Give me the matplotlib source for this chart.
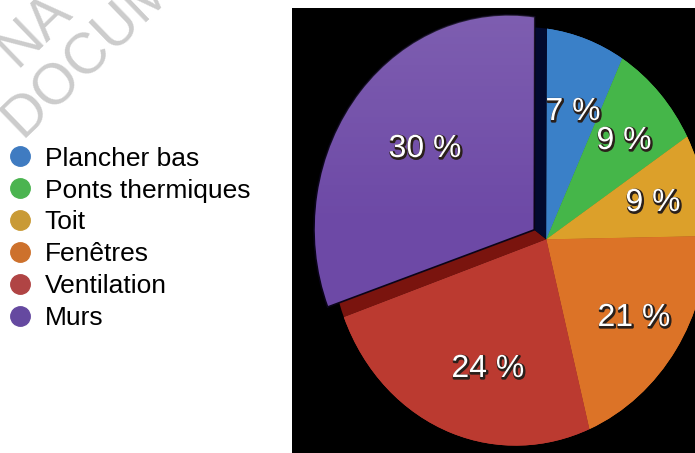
import numpy as np
import matplotlib
matplotlib.use("Agg")
import matplotlib.pyplot as plt
import matplotlib.patheffects as pe
from matplotlib.lines import Line2D
from matplotlib.transforms import Transform

plt.rcParams["font.family"] = ["Liberation Sans", "DejaVu Sans"]

postes = ["Plancher bas", "Ponts thermiques", "Toit", "Fenêtres", "Ventilation", "Murs"]
parts = [7, 9, 9, 21, 24, 30]
etiquettes = ["7 %", "9 %", "9 %", "21 %", "24 %", "30 %"]
couleurs = ["#3a80c8", "#45b649", "#dca02a", "#dc7327", "#bb3a30", "#6d49a6"]
legende_couleurs = ["#3f7bc1", "#4bb450", "#c99a35", "#cd712c", "#b04444", "#6549a0"]


# le camembert de l'image est vu en perspective : on calibre une homographie
# angle sur le cercle (degres depuis le haut, sens horaire) -> pixel de l'image
calib_angles = [0, 0, 0, 25, 58, 90, 140, 166, 190, 206, 252, 270, 312]
calib_px = [(548, 28), (548, 28), (548, 28), (622, 57), (685, 135), (708, 234), (657, 377),
            (588, 428), (503, 448), (457, 440), (353, 327), (338, 212), (375, 99)]
# le centre compte plusieurs fois pour tenir la pointe en place
centre_px = [(548, 242)] * 6


def calibrer():
    A, B = [], []
    pts = [(np.sin(np.radians(t)), np.cos(np.radians(t))) for t in calib_angles] + [(0, 0)] * len(centre_px)
    for (u, v), (x, y) in zip(pts, calib_px + centre_px):
        A.append([u, v, 1, 0, 0, 0, -x * u, -x * v])
        B.append(x)
        A.append([0, 0, 0, u, v, 1, -y * u, -y * v])
        B.append(y)
    h = np.linalg.lstsq(np.array(A, float), np.array(B, float), rcond=None)[0]
    return h.reshape(-1).tolist() + [1.0]


class Perspective(Transform):
    input_dims = 2
    output_dims = 2
    is_affine = False

    def __init__(self, h):
        super().__init__()
        self.h = np.array(h).reshape(3, 3)

    def transform_non_affine(self, values):
        # x du pie = sin(angle depuis le haut), y du pie = cos
        p = np.c_[values, np.ones(len(values))] @ self.h.T
        return p[:, :2] / p[:, 2:]


W, H = 695, 453
fig = plt.figure(figsize=(W / 100, H / 100), dpi=100)

# filigrane
fig.text(0.032, 0.693, "DOCUMENT", fontsize=41, color="#cccccc", rotation=44,
         rotation_mode="anchor", ha="left", va="baseline")
fig.text(0.023, 0.85, "NA", fontsize=41, color="#cccccc", rotation=44,
         rotation_mode="anchor", ha="left", va="baseline")

# panneau noir, axes en pixels de l'image
x0, x1, y0, y1 = 292, 695, 8, 453
ax = fig.add_axes([x0 / W, 1 - y1 / H, (x1 - x0) / W, (y1 - y0) / H])

# dessous : emplacement d'origine du secteur Murs (parois sombres)
dessous = parts[:-1] + [parts[-1] / 2, parts[-1] / 2]
w_dessous, _ = ax.pie(dessous, colors=couleurs[:-1] + ["#7a140e", "#020a2e"],
                      startangle=90, counterclock=False)

explode = [0, 0, 0, 0, 0, 0.08]
wedges, _ = ax.pie(parts, colors=couleurs, startangle=90, counterclock=False,
                   explode=explode)
wedges[-1].set_edgecolor("#0a0418")
wedges[-1].set_linewidth(1.2)

ax.set_aspect("auto")
ax.set_xlim(x0, x1)
ax.set_ylim(y1, y0)
persp = Perspective(calibrer())
for w in list(w_dessous) + list(wedges):
    w.set_transform(persp + ax.transData)

# reflet plus clair en haut du secteur Murs
degrade = np.zeros((64, 2, 4))
degrade[..., :3] = 1
degrade[..., 3] = np.linspace(0.12, 0, 64)[:, None]
reflet = ax.imshow(degrade, extent=(x0, x1, 230, 10), aspect="auto", zorder=1.5)
reflet.set_clip_path(wedges[-1])
ax.set_xlim(x0, x1)
ax.set_ylim(y1, y0)

ax.set_frame_on(True)
ax.set_facecolor("black")
for s in ax.spines.values():
    s.set_visible(False)
ax.set_xticks([])
ax.set_yticks([])

pos_etiquettes = [(573, 112), (624, 141), (653, 203), (634, 318), (488, 369), (425, 149)]
for (px, py), txt in zip(pos_etiquettes, etiquettes):
    ax.text(px, py, txt, color="white", fontsize=23, ha="center", va="center", zorder=3,
            path_effects=[pe.Stroke(linewidth=2, foreground="#2a201b", offset=(0.7, -0.9)),
                          pe.Normal()])

poignees = [Line2D([], [], linestyle="none", marker="o", markersize=14,
                   markerfacecolor=c, markeredgecolor=c) for c in legende_couleurs]
fig.legend(poignees, postes, loc="upper left", bbox_to_anchor=(0, 1 - 140 / H),
           frameon=False, fontsize=19, labelspacing=0.30, handlelength=1.0,
           handletextpad=0.45, borderaxespad=0, borderpad=0.25)

fig.savefig("out.png", dpi=100)
